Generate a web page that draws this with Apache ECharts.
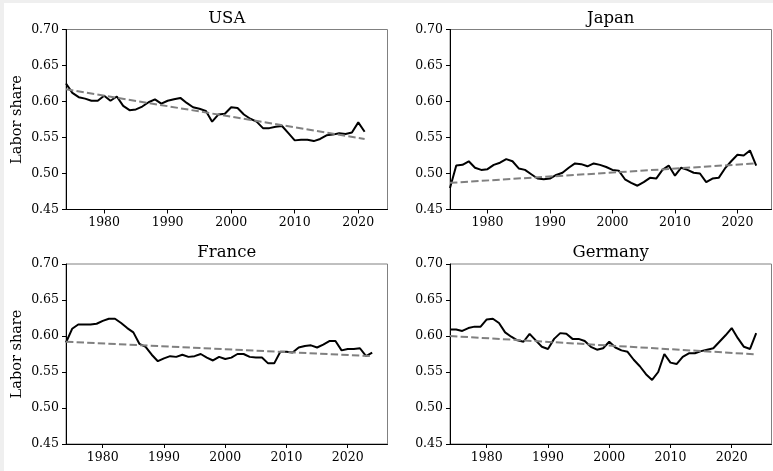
<!DOCTYPE html>
<html>
<head>
<meta charset="utf-8">
<script src="https://cdn.jsdelivr.net/npm/echarts@6/dist/echarts.min.js"></script>
<style>
  body { margin: 0; background: #efefef; }
  #chart { position: absolute; left: 4px; top: 3px; width: 769px; height: 468px; background: #fff; }
</style>
</head>
<body>
<div id="chart"></div>
<script>
const startYear = 1974
const countries = ['USA', 'Japan', 'France', 'Germany']

const usaShare = [0.625, 0.612, 0.606, 0.604, 0.601, 0.601, 0.608, 0.601, 0.607, 0.594,
  0.588, 0.589, 0.593, 0.599, 0.603, 0.597, 0.601, 0.603, 0.605, 0.598,
  0.592, 0.590, 0.587, 0.572, 0.582, 0.583, 0.592, 0.591, 0.582, 0.576,
  0.572, 0.563, 0.563, 0.565, 0.566, 0.556, 0.546, 0.547, 0.547, 0.545,
  0.548, 0.553, 0.554, 0.556, 0.555, 0.557, 0.571, 0.558]
const japanShare = [0.480, 0.511, 0.512, 0.517, 0.508, 0.505, 0.506, 0.512, 0.515, 0.520,
  0.517, 0.507, 0.505, 0.499, 0.493, 0.492, 0.493, 0.498, 0.501, 0.508,
  0.514, 0.513, 0.510, 0.514, 0.512, 0.509, 0.505, 0.504, 0.492, 0.487,
  0.483, 0.488, 0.494, 0.493, 0.505, 0.511, 0.497, 0.508, 0.505, 0.501,
  0.500, 0.488, 0.493, 0.494, 0.507, 0.517, 0.526, 0.525, 0.532, 0.511]
const franceShare = [0.591, 0.610, 0.616, 0.616, 0.616, 0.617, 0.621, 0.624, 0.624, 0.618,
  0.611, 0.605, 0.589, 0.585, 0.574, 0.565, 0.569, 0.572, 0.571, 0.574,
  0.571, 0.572, 0.575, 0.570, 0.566, 0.571, 0.568, 0.570, 0.575, 0.575,
  0.571, 0.570, 0.570, 0.562, 0.562, 0.578, 0.578, 0.577, 0.584, 0.586,
  0.587, 0.584, 0.588, 0.593, 0.593, 0.580, 0.582, 0.582, 0.583, 0.572,
  0.577]
const germanyShare = [0.609, 0.609, 0.607, 0.611, 0.613, 0.613, 0.623, 0.624, 0.618, 0.605,
  0.599, 0.594, 0.592, 0.603, 0.594, 0.585, 0.582, 0.596, 0.604, 0.603,
  0.596, 0.596, 0.593, 0.585, 0.581, 0.583, 0.592, 0.584, 0.580, 0.578,
  0.567, 0.558, 0.547, 0.539, 0.550, 0.575, 0.563, 0.561, 0.571, 0.576,
  0.576, 0.579, 0.581, 0.583, 0.592, 0.601, 0.611, 0.597, 0.585, 0.582,
  0.604]

// dashed linear trend: value at first and last year
const usaTrend = [0.617, 0.548]
const japanTrend = [0.487, 0.514]
const franceTrend = [0.592, 0.572]
const germanyTrend = [0.600, 0.5745]

const xMax = [2024.6, 2025.45, 2026.5, 2026.5]
const xTickLabels = [1980, 1990, 2000, 2010, 2020]

const shares = [usaShare, japanShare, franceShare, germanyShare]
const trends = [usaTrend, japanTrend, franceTrend, germanyTrend]

const font = 'DejaVu Serif'
const lefts = [62, 446, 62, 446]
const tops = [26.5, 26.5, 261, 261]
const panelW = 321.5
const panelH = 180

let chart = echarts.init(document.getElementById('chart'))

let option = {
  animation: false,
  title: [],
  grid: [],
  xAxis: [],
  yAxis: [],
  series: []
}

countries.forEach((name, i) => {
  let vals = shares[i]
  let lastYear = startYear + vals.length - 1
  option.title.push({
    text: name,
    left: lefts[i] + panelW / 2,
    top: tops[i] - 19.5,
    textAlign: 'center',
    padding: 0,
    textStyle: { fontFamily: font, fontSize: 16.5, fontWeight: 'normal', color: '#000' }
  })
  option.grid.push({
    left: lefts[i], top: tops[i], width: panelW, height: panelH,
    show: true, borderColor: '#808080', borderWidth: 1, backgroundColor: '#fff'
  })
  option.xAxis.push({
    type: 'value',
    gridIndex: i,
    min: startYear,
    max: xMax[i],
    splitLine: { show: false },
    axisLine: { lineStyle: { color: '#000', width: 1 } },
    axisTick: { customValues: xTickLabels, length: 4, lineStyle: { color: '#000' } },
    axisLabel: {
      customValues: xTickLabels,
      margin: 7,
      fontFamily: font, fontSize: 12.5, color: '#000',
      formatter: (v) => String(v)
    }
  })
  option.yAxis.push({
    type: 'value',
    gridIndex: i,
    min: 0.45,
    max: 0.70,
    interval: 0.05,
    name: i % 2 === 0 ? 'Labor share' : '',
    nameLocation: 'middle',
    nameGap: 41,
    nameTextStyle: { fontFamily: font, fontSize: 14.5, color: '#000' },
    splitLine: { show: false },
    axisLine: { show: true, lineStyle: { color: '#000', width: 1 } },
    axisTick: { show: true, length: 4, lineStyle: { color: '#000' } },
    axisLabel: {
      margin: 7,
      fontFamily: font, fontSize: 12.5, color: '#000',
      formatter: (v) => v.toFixed(2)
    }
  })
  option.series.push({
    type: 'line',
    xAxisIndex: i,
    yAxisIndex: i,
    showSymbol: false,
    z: 3,
    lineStyle: { color: '#000', width: 2 },
    data: vals.map((v, k) => [startYear + k, v])
  })
  option.series.push({
    type: 'line',
    xAxisIndex: i,
    yAxisIndex: i,
    showSymbol: false,
    z: 4,
    lineStyle: { color: '#808080', width: 2, type: [7.4, 3.2] },
    data: [[startYear, trends[i][0]], [lastYear, trends[i][1]]]
  })
})

chart.setOption(option)
</script>
</body>
</html>
